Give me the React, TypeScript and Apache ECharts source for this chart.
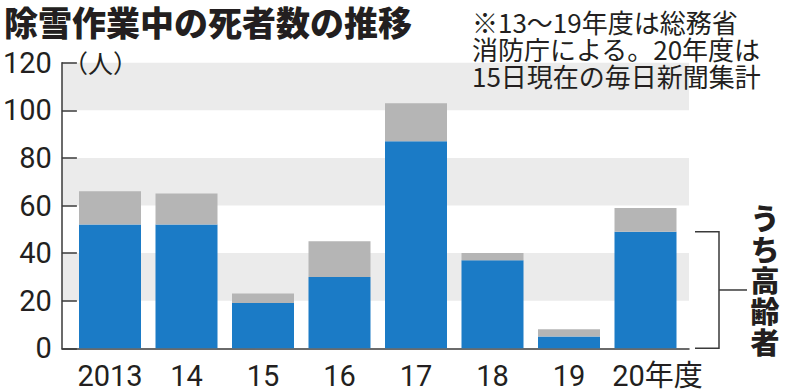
import React, { useEffect, useRef } from "react";
import * as echarts from "echarts";

const categories = ["2013", "14", "15", "16", "17", "18", "19", "20"];
const totalDeaths = [66, 65, 23, 45, 103, 40, 8, 59];
const elderlyDeaths = [52, 52, 19, 30, 87, 37, 5, 49];
const yTicks = [0, 20, 40, 60, 80, 100, 120];
const titleText = "除雪作業中の死者数の推移";
const noteLines = ["※13～19年度は総務省", "消防庁による。20年度は", "15日現在の毎日新聞集計"];
const unitText = "（人）";
const bracketLabel = "うち高齢者";

const NUM_FONT = "Roboto, 'Noto Sans CJK JP', sans-serif";
const JP_FONT = "'Noto Sans CJK JP', sans-serif";
const INK = "#231f20";

export default function App() {
  const ref = useRef<HTMLDivElement>(null);
  useEffect(() => {
    document.body.style.margin = "0";
    const chart = echarts.init(ref.current!, null, { renderer: "svg" });
    const others = totalDeaths.map((t, i) => t - elderlyDeaths[i]);
    const yMin = yTicks[0];
    const yMax = yTicks[yTicks.length - 1];
    const step = yTicks[1] - yTicks[0];
    const option: any = {
      animation: false,
      backgroundColor: "#ffffff",
      grid: [
        { left: 71.75, right: 116.25, top: 62.7, bottom: 43.7 },
        { left: 53, right: 111, top: 62.7, bottom: 43.7 },
      ],
      xAxis: [
        {
          type: "category",
          gridIndex: 0,
          data: categories,
          axisLine: { show: false },
          axisTick: { show: false },
          axisLabel: {
            interval: 0,
            fontFamily: NUM_FONT,
            fontSize: 29,
            color: INK,
            margin: 13,
            formatter: (v: string, i: number) =>
              i === categories.length - 1 ? "{last|" + v + "年度}" : v,
            rich: {
              last: { fontFamily: NUM_FONT, fontSize: 29, color: INK, padding: [0, 0, 0, 24] },
            },
          },
        },
        {
          type: "category",
          gridIndex: 1,
          data: categories,
          axisLine: { show: true, lineStyle: { color: "#3a3a3a", width: 1.5 } },
          axisTick: { show: false },
          axisLabel: { show: false },
        },
      ],
      yAxis: [
        {
          type: "value",
          gridIndex: 0,
          min: yMin,
          max: yMax,
          interval: step,
          show: false,
        },
        {
          type: "value",
          gridIndex: 1,
          min: yMin,
          max: yMax,
          interval: step,
          axisLine: { show: true, lineStyle: { color: "#3a3a3a", width: 1.5 } },
          axisTick: { show: true, inside: true, length: 15, lineStyle: { color: "#3a3a3a", width: 1.5 } },
          axisLabel: { fontFamily: NUM_FONT, fontSize: 29, color: INK, margin: 10 },
          splitLine: { show: false },
          splitArea: { show: true, areaStyle: { color: ["rgba(255,255,255,0)", "#ebebeb"] } },
        },
      ],
      series: [
        {
          type: "bar",
          name: "高齢者",
          xAxisIndex: 0,
          yAxisIndex: 0,
          stack: "total",
          data: elderlyDeaths,
          barWidth: 62,
          itemStyle: { color: "#1b7bc6" },
        },
        {
          type: "bar",
          name: "その他",
          xAxisIndex: 0,
          yAxisIndex: 0,
          stack: "total",
          data: others,
          barWidth: 62,
          itemStyle: { color: "#b5b5b5" },
        },
      ],
      graphic: [
        {
          type: "text",
          left: 4,
          top: 4,
          z: 100,
          style: { text: titleText, font: "900 34px " + JP_FONT, fill: INK },
        },
        ...noteLines.map((line, i) => ({
          type: "text",
          x: 472,
          y: 21 + i * 27,
          z: 100,
          style: {
            text: line,
            fontFamily: JP_FONT,
            fontSize: 26,
            fill: INK,
            verticalAlign: "middle",
          },
        })),
        {
          type: "text",
          x: 63,
          y: 62,
          z: 100,
          style: { text: unitText, fontFamily: JP_FONT, fontSize: 25, fill: INK, verticalAlign: "middle" },
        },
      ],
    };
    chart.setOption(option);

    const last = categories.length - 1;
    const topY = chart.convertToPixel({ yAxisIndex: 0 } as any, elderlyDeaths[last]) as number;
    const baseY = chart.convertToPixel({ yAxisIndex: 0 } as any, 0) as number;
    const bx = 719;
    const midY = (topY + baseY) / 2;
    const chars = bracketLabel.split("");
    chart.setOption({
      graphic: [
        ...option.graphic,
        {
          type: "polyline",
          z: 100,
          shape: { points: [[695, topY], [bx, topY], [bx, baseY], [695, baseY]] },
          style: { stroke: "#3a3a3a", lineWidth: 1.5, fill: "none" },
        },
        {
          type: "line",
          z: 100,
          shape: { x1: bx, y1: midY, x2: 747, y2: midY },
          style: { stroke: "#3a3a3a", lineWidth: 1.5 },
        },
        ...chars.map((c, i) => ({
          type: "text",
          z: 100,
          x: 765,
          y: 217 + i * 31,
          style: {
            text: c,
            font: "900 29px " + JP_FONT,
            fill: INK,
            align: "center",
            verticalAlign: "middle",
          },
        })),
      ],
    });
    return () => chart.dispose();
  }, []);
  return <div ref={ref} style={{ width: 800, height: 392 }} />;
}
